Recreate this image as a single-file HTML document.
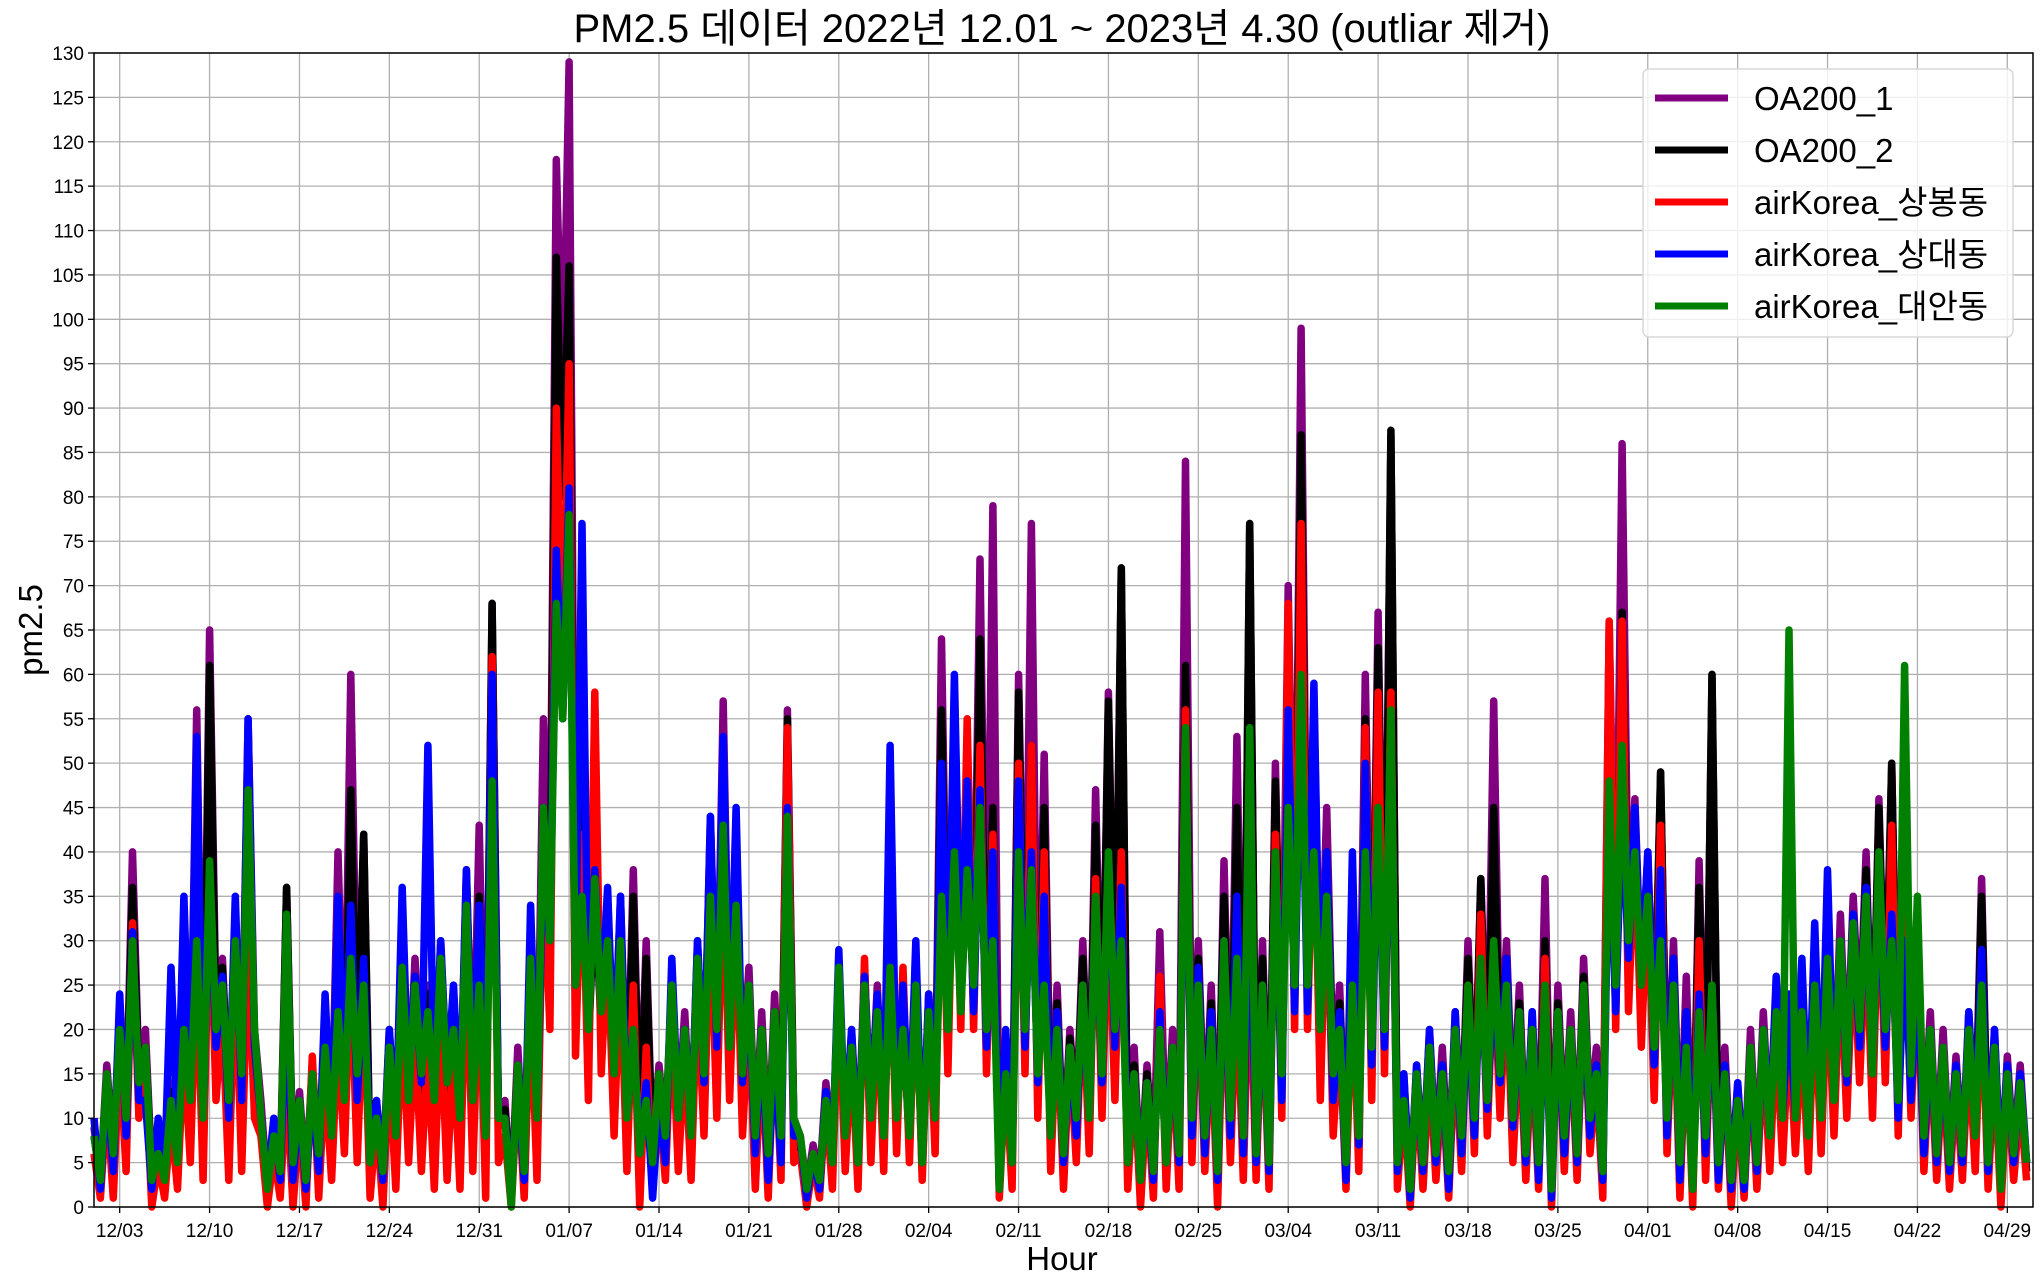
<!DOCTYPE html>
<html><head><meta charset="utf-8">
<style>
html,body{margin:0;padding:0;background:#fff;}
svg{display:block;font-family:"Liberation Sans","Noto Sans CJK KR",sans-serif;}
</style></head>
<body>
<svg id="chart" width="2043" height="1287" viewBox="0 0 2043 1287">
<rect x="0" y="0" width="2043" height="1287" fill="#fff"/>
<g id="grid"></g>
<g id="series"></g>
<rect x="94" y="53" width="1939" height="1154" fill="none" stroke="#000" stroke-width="1.5"/>
<g id="yticks"></g>
<g id="xticks"></g>
<text x="1062" y="42" text-anchor="middle" font-size="40" fill="#000">PM2.5 데이터 2022년 12.01 ~ 2023년 4.30 (outliar 제거)</text>
<text x="1062" y="1270" text-anchor="middle" font-size="33" fill="#000">Hour</text>
<text x="0" y="0" transform="translate(42,630) rotate(-90)" text-anchor="middle" font-size="33" fill="#000">pm2.5</text>
<g id="legend">
<rect x="1643" y="69" width="370" height="268" rx="6" fill="#fff" fill-opacity="0.8" stroke="#d8d8d8" stroke-width="1.5"/>
</g>
</svg>
<script>
const tickLabels = ["12/03","12/10","12/17","12/24","12/31","01/07","01/14","01/21","01/28","02/04","02/11","02/18","02/25","03/04","03/11","03/18","03/25","04/01","04/08","04/15","04/22","04/29"];
const tickDays = [2,9,16,23,30,37,44,51,58,65,72,79,86,93,100,107,114,121,128,135,142,149];
const yTicks = [0,5,10,15,20,25,30,35,40,45,50,55,60,65,70,75,80,85,90,95,100,105,110,115,120,125,130];
const seriesNames = ["OA200_1","OA200_2","airKorea_상봉동","airKorea_상대동","airKorea_대안동"];
const seriesColors = ["#800080","#000000","#ff0000","#0000ff","#008000"];
// values every 12 hours starting 12/01 00:00
const oa200_1 = [9,3,16,6,22,10,40,15,20,4,7,4,14,6,
22,12,56,10,65,22,28,12,32,14,55,20,12,2,
9,4,36,5,13,3,16,6,20,8,40,14,60,18,
42,5,12,4,20,9,30,12,28,14,25,12,30,14,
22,10,38,12,43,8,68,10,12,1,18,4,30,10,
55,35,118,90,129,25,60,20,40,22,35,15,35,10,
38,8,30,6,16,8,26,10,22,8,30,14,44,18,
57,18,40,15,27,8,22,6,24,8,56,10,8,2,
7,3,14,6,27,8,20,6,27,10,25,8,30,10,
22,8,28,5,24,10,64,20,58,25,45,25,73,20,
79,2,18,5,60,20,77,15,51,8,25,6,20,10,
30,10,47,15,58,20,72,5,18,3,16,4,31,5,
20,6,84,10,30,8,25,4,39,10,53,8,77,6,
30,5,50,15,70,25,99,25,57,20,45,15,25,5,
30,8,60,18,67,20,87,5,15,2,16,5,20,6,
18,4,22,8,30,10,37,12,57,15,30,10,25,6,
22,5,37,2,25,8,22,6,28,10,18,4,66,25,
86,30,46,25,40,18,49,10,30,5,26,2,39,8,
60,5,18,3,14,3,20,5,22,8,24,10,22,10,
24,8,27,10,30,12,33,15,35,20,40,15,46,20,
50,12,42,15,30,8,22,6,20,5,17,6,22,8,
37,5,20,3,17,6,16,5];
const oa200_2 = [8,3,15,5,21,9,36,14,18,4,6,4,13,5,
20,11,30,10,61,20,27,11,30,13,45,18,10,1,
8,3,36,4,12,2,15,5,18,7,30,13,47,16,
42,4,11,3,19,8,30,11,26,13,24,11,28,13,
21,9,36,11,35,7,68,9,11,1,16,3,28,9,
45,30,107,80,106,22,58,18,36,20,34,14,33,9,
35,7,28,5,15,7,24,9,20,7,28,13,40,16,
50,16,38,14,25,7,20,5,22,7,55,9,7,1,
6,2,13,5,25,7,19,5,25,9,23,7,28,9,
21,7,26,4,23,9,56,18,50,22,42,23,64,18,
45,2,17,4,58,18,52,14,45,7,23,5,19,9,
28,9,43,14,57,18,72,4,16,2,15,3,25,4,
18,5,61,9,28,7,23,3,35,9,45,7,77,5,
28,4,48,14,65,22,87,22,50,18,40,14,23,4,
28,7,55,16,63,18,87.5,4,14,2,15,4,18,5,
16,3,20,7,28,9,37,11,45,14,28,9,23,5,
20,4,30,2,23,7,20,5,26,9,16,3,60,22,
67,28,44,22,38,16,49,9,28,4,22,2,36,7,
60,4,16,2,13,2,18,4,20,7,22,9,20,9,
22,7,25,9,28,11,30,14,33,18,38,14,45,18,
50,10,40,13,28,7,20,5,18,4,15,5,20,7,
35,4,18,2,15,5,14,4];
const sangbong = [6,1,12,1,18,4,32,10,15,0,5,1,10,2,
18,5,28,3,38,12,22,3,28,4,30,10,8,0,
6,1,14,0,10,0,17,1,15,3,20,6,28,5,
25,1,10,0,16,2,22,5,20,4,18,2,22,3,
18,2,30,4,28,1,62,5,8,0,14,1,24,3,
40,20,90,60,95,17,42,12,58,15,30,8,28,4,
25,0,18,2,12,3,22,4,18,3,25,8,35,10,
40,12,34,8,22,2,18,1,20,3,54,5,6,0,
5,1,12,2,25,4,18,2,28,5,24,4,32,6,
27,5,28,3,24,6,45,15,48,20,55,20,52,15,
42,1,15,2,50,15,52,10,40,4,22,2,18,5,
25,6,37,10,35,12,40,2,15,0,13,1,26,2,
18,2,56,5,26,4,20,0,28,5,25,3,30,3,
24,2,42,10,68,20,77,20,48,12,38,8,20,2,
26,4,54,12,58,15,58,2,12,0,14,2,16,3,
14,1,18,4,25,6,33,8,28,10,26,5,20,3,
18,2,28,0,22,4,20,3,24,6,15,1,66,20,
66,22,42,18,36,12,43,6,25,1,20,0,30,3,
25,2,16,0,12,1,16,2,18,4,20,5,20,6,
20,4,24,6,26,8,28,10,30,14,32,10,38,14,
43,8,35,10,26,4,18,3,16,2,14,3,18,4,
25,2,16,0,14,3,12,3];
const sangdae = [10,2,14,4,24,8,31,12,12,2,10,4,27,8,
35,12,53,10,38,18,26,10,35,12,55,18,10,3,
10,3,25,3,12,2,14,4,24,8,35,14,34,12,
28,5,12,3,20,8,36,12,26,14,52,12,30,14,
25,10,38,12,34,8,60,10,10,2,14,3,34,10,
40,30,74,55,81,25,77,20,38,22,36,15,35,10,
20,6,14,1,12,5,28,10,20,8,30,14,44,18,
53,18,45,14,25,6,20,3,18,5,45,8,8,1,
6,2,13,5,29,8,20,5,26,10,24,8,52,10,
25,8,30,5,24,10,50,20,60,25,48,22,47,18,
40,2,20,5,48,18,40,14,35,8,22,5,18,8,
25,10,35,14,40,18,36,5,15,3,14,3,22,5,
18,5,52,8,27,6,22,3,30,8,35,6,40,5,
25,4,40,12,56,22,58,22,59,20,40,12,22,3,
40,7,50,16,45,18,55,4,15,1,16,4,20,5,
16,2,22,6,24,8,28,11,27,14,28,9,22,5,
22,3,25,1,22,6,20,5,24,8,16,3,45,22,
46,28,45,25,40,16,38,8,28,3,22,2,24,6,
25,3,16,2,14,2,17,4,20,8,26,10,24,10,
28,8,32,10,38,12,30,14,33,18,36,15,38,18,
33,10,30,12,28,6,20,5,18,4,16,5,22,8,
29,4,20,3,16,5,15,5];
const daean = [8,3,15,6,20,10,30,14,18,3,6,3,12,5,
20,12,30,10,39,20,25,12,30,15,47,20,10,2,
8,4,33,5,12,3,15,6,18,8,22,12,28,15,
25,5,10,4,18,8,27,12,25,15,22,12,28,14,
20,10,34,12,25,8,48,10,10,0,16,4,28,10,
45,30,68,55,78,25,35,20,37,22,30,15,30,10,
20,6,12,5,15,8,25,10,20,8,28,15,35,20,
43,18,34,15,25,8,20,6,22,8,44,10,8,2,
6,3,12,5,27,8,18,5,25,10,22,8,27,10,
20,8,25,5,22,10,35,20,40,22,38,25,45,20,
30,2,15,5,40,20,38,15,25,8,20,6,18,10,
25,10,35,15,40,20,30,5,15,3,14,4,20,5,
18,6,54,10,25,8,20,4,30,10,28,8,54,6,
25,5,40,15,45,25,60,25,40,20,35,15,20,5,
25,8,40,18,45,20,56,5,12,2,15,5,18,6,
15,4,20,8,25,10,28,12,30,15,25,10,22,6,
20,5,25,2,22,8,20,6,25,10,15,4,48,25,
52,30,40,25,35,18,30,10,25,5,18,2,22,8,
25,5,15,3,12,3,18,5,20,8,22,10,65,10,
22,8,25,10,28,12,30,15,32,20,35,15,40,20,
30,12,61,15,35,8,20,6,18,5,15,6,20,8,
25,5,18,2,15,6,14,5];
const allSeries = [oa200_1, oa200_2, sangbong, sangdae, daean];

const X0 = 94, X1 = 2033, Y0 = 1207, Y1 = 53, DAYS = 151, YMAX = 130;
const xScale = d => X0 + (X1 - X0) * d / DAYS;
const yScale = v => Y0 - (Y0 - Y1) * v / YMAX;
const NS = "http://www.w3.org/2000/svg";
const mk = (tag, attrs) => { const e = document.createElementNS(NS, tag); for (const k in attrs) e.setAttribute(k, attrs[k]); return e; };

const grid = document.getElementById("grid");
const yt = document.getElementById("yticks");
yTicks.forEach(v => {
  const y = yScale(v);
  const gl = mk("line", {x1: X0, x2: X1, y1: y, y2: y, stroke: "#b0b0b0", "stroke-width": 1.3});
  
  
  grid.appendChild(gl);
  const tk = mk("line", {x1: X0 - 6, x2: X0, y1: y, y2: y, stroke: "#000", "stroke-width": 1.3});
  
  
  yt.appendChild(tk);
  const t = mk("text", {x: X0 - 10, y: y + 7, "text-anchor": "end", "font-size": 19, fill: "#000"});
  t.textContent = v;
  
  
  yt.appendChild(t);
});
const xt = document.getElementById("xticks");
tickDays.forEach((d, i) => {
  const x = xScale(d);
  const gl = mk("line", {x1: x, x2: x, y1: Y1, y2: Y0, stroke: "#b0b0b0", "stroke-width": 1.3});
  
  
  grid.appendChild(gl);
  const tk = mk("line", {x1: x, x2: x, y1: Y0, y2: Y0 + 6, stroke: "#000", "stroke-width": 1.3});
  
  
  xt.appendChild(tk);
  const t = mk("text", {x: x, y: Y0 + 30, "text-anchor": "middle", "font-size": 19, fill: "#000"});
  t.textContent = tickLabels[i];
  
  
  xt.appendChild(t);
});

const sg = document.getElementById("series");
allSeries.forEach((vals, si) => {
  const pts = vals.map((v, i) => xScale(i / 2).toFixed(1) + "," + yScale(v).toFixed(1)).join(" ");
  const pl = mk("polyline", {points: pts, fill: "none", stroke: seriesColors[si], "stroke-width": 7.5, "stroke-linejoin": "round", "stroke-linecap": "butt"});
  
  
  sg.appendChild(pl);
});

const lg = document.getElementById("legend");
seriesNames.forEach((n, i) => {
  const y = 98 + i * 52;
  const ln = mk("line", {x1: 1655, x2: 1728, y1: y, y2: y, stroke: seriesColors[i], "stroke-width": 7});
  
  
  lg.appendChild(ln);
  const t = mk("text", {x: 1754, y: y + 12, "font-size": 33, fill: "#000"});
  t.textContent = n;
  
  
  lg.appendChild(t);
});
</script>
</body></html>
